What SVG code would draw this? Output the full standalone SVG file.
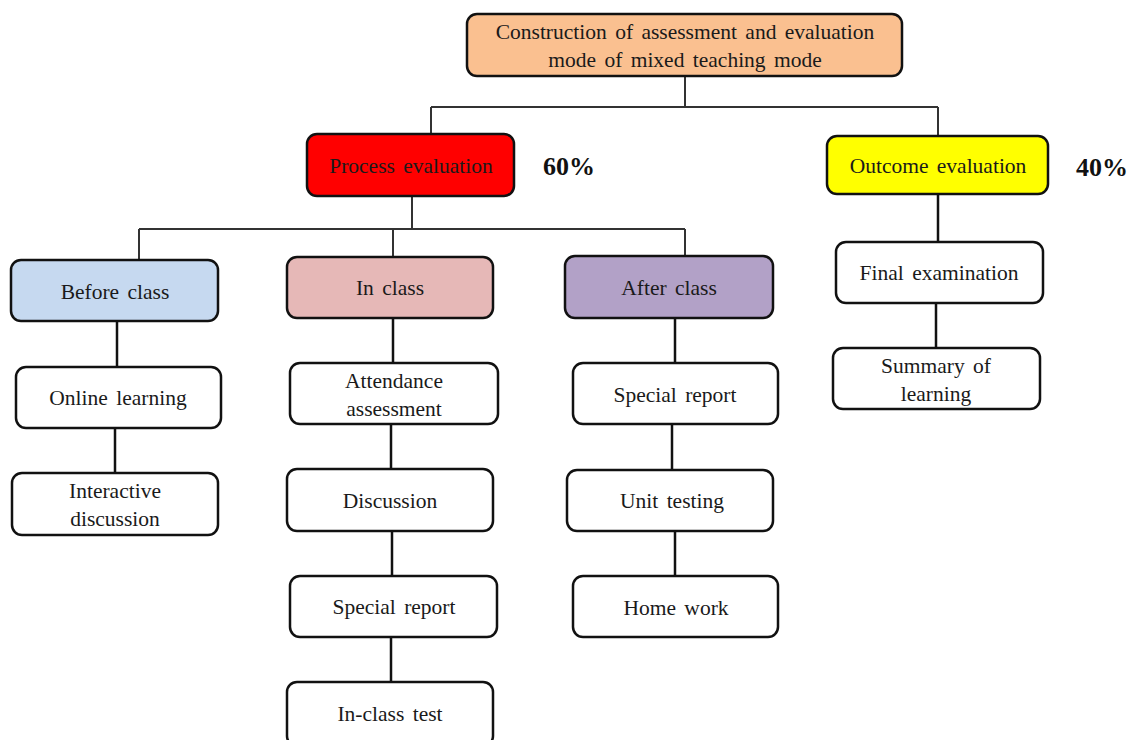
<svg xmlns="http://www.w3.org/2000/svg" width="1131" height="740" viewBox="0 0 1131 740">
<style>
.box{stroke:#111;stroke-width:2.5;}
.w{fill:#fff;}
.t{font-family:"Liberation Serif","Times New Roman",serif;font-size:21.5px;fill:#1a1a1a;text-anchor:middle;word-spacing:3px;}
.p{font-family:"Liberation Serif","Times New Roman",serif;font-size:26px;font-weight:bold;fill:#111;}
.c{stroke:#111;stroke-width:2.5;fill:none;}
.c2{stroke:#333;stroke-width:2;fill:none;}
</style>
<rect width="1131" height="740" fill="#fff"/>
<g id="connectors">
<path class="c2" d="M685 76V107M431 107H938M431 107V134M938 107V136"/>
<path class="c2" d="M412 196V229M139 229H685M139 229V260M393 229V257M685 229V256"/>
<path class="c" d="M117 321V367M115 428V473"/>
<path class="c" d="M393 318V363M391 424V469M392 531V576M391 637V682"/>
<path class="c" d="M675 318V363M672 424V470M675 531V576"/>
<path class="c" d="M938 194V242M936 303V348"/>
</g>
<g id="root"><rect class="box" x="467" y="14" width="435" height="62" rx="10" fill="#fac090"/><text class="t" x="685" y="39">Construction of assessment and evaluation</text><text class="t" x="685" y="67">mode of mixed teaching mode</text></g>
<g id="process"><rect class="box" x="307" y="134" width="207" height="62" rx="10" fill="#ff0000"/><text class="t" x="411" y="173">Process evaluation</text></g>
<g id="pct60"><text class="p" x="543" y="175">60%</text></g>
<g id="outcome"><rect class="box" x="827" y="136" width="221" height="58" rx="10" fill="#ffff00"/><text class="t" x="938" y="173">Outcome evaluation</text></g>
<g id="pct40"><text class="p" x="1076" y="176">40%</text></g>
<g id="before"><rect class="box" x="11" y="260" width="207" height="61" rx="10" fill="#c6d9f0"/><text class="t" x="115" y="299">Before class</text></g>
<g id="online"><rect class="box w" x="16" y="367" width="205" height="61" rx="10"/><text class="t" x="118" y="405">Online learning</text></g>
<g id="interactive"><rect class="box w" x="12" y="473" width="206" height="62" rx="10"/><text class="t" x="115" y="498">Interactive</text><text class="t" x="115" y="526">discussion</text></g>
<g id="inclass"><rect class="box" x="287" y="257" width="206" height="61" rx="10" fill="#e6b8b7"/><text class="t" x="390" y="295">In class</text></g>
<g id="attendance"><rect class="box w" x="290" y="363" width="208" height="61" rx="10"/><text class="t" x="394" y="388">Attendance</text><text class="t" x="394" y="416">assessment</text></g>
<g id="discussion"><rect class="box w" x="287" y="469" width="206" height="62" rx="10"/><text class="t" x="390" y="508">Discussion</text></g>
<g id="special1"><rect class="box w" x="290" y="576" width="207" height="61" rx="10"/><text class="t" x="394" y="614">Special report</text></g>
<g id="inclasstest"><rect class="box w" x="287" y="682" width="206" height="64" rx="10"/><text class="t" x="390" y="721">In-class test</text></g>
<g id="after"><rect class="box" x="565" y="256" width="208" height="62" rx="10" fill="#b2a1c7"/><text class="t" x="669" y="295">After class</text></g>
<g id="special2"><rect class="box w" x="573" y="363" width="205" height="61" rx="10"/><text class="t" x="675" y="402">Special report</text></g>
<g id="unit"><rect class="box w" x="567" y="470" width="206" height="61" rx="10"/><text class="t" x="672" y="508">Unit testing</text></g>
<g id="home"><rect class="box w" x="573" y="576" width="205" height="61" rx="10"/><text class="t" x="676" y="615">Home work</text></g>
<g id="final"><rect class="box w" x="836" y="242" width="207" height="61" rx="10"/><text class="t" x="939" y="280">Final examination</text></g>
<g id="summary"><rect class="box w" x="833" y="348" width="207" height="61" rx="10"/><text class="t" x="936" y="373">Summary of</text><text class="t" x="936" y="401">learning</text></g>
</svg>
